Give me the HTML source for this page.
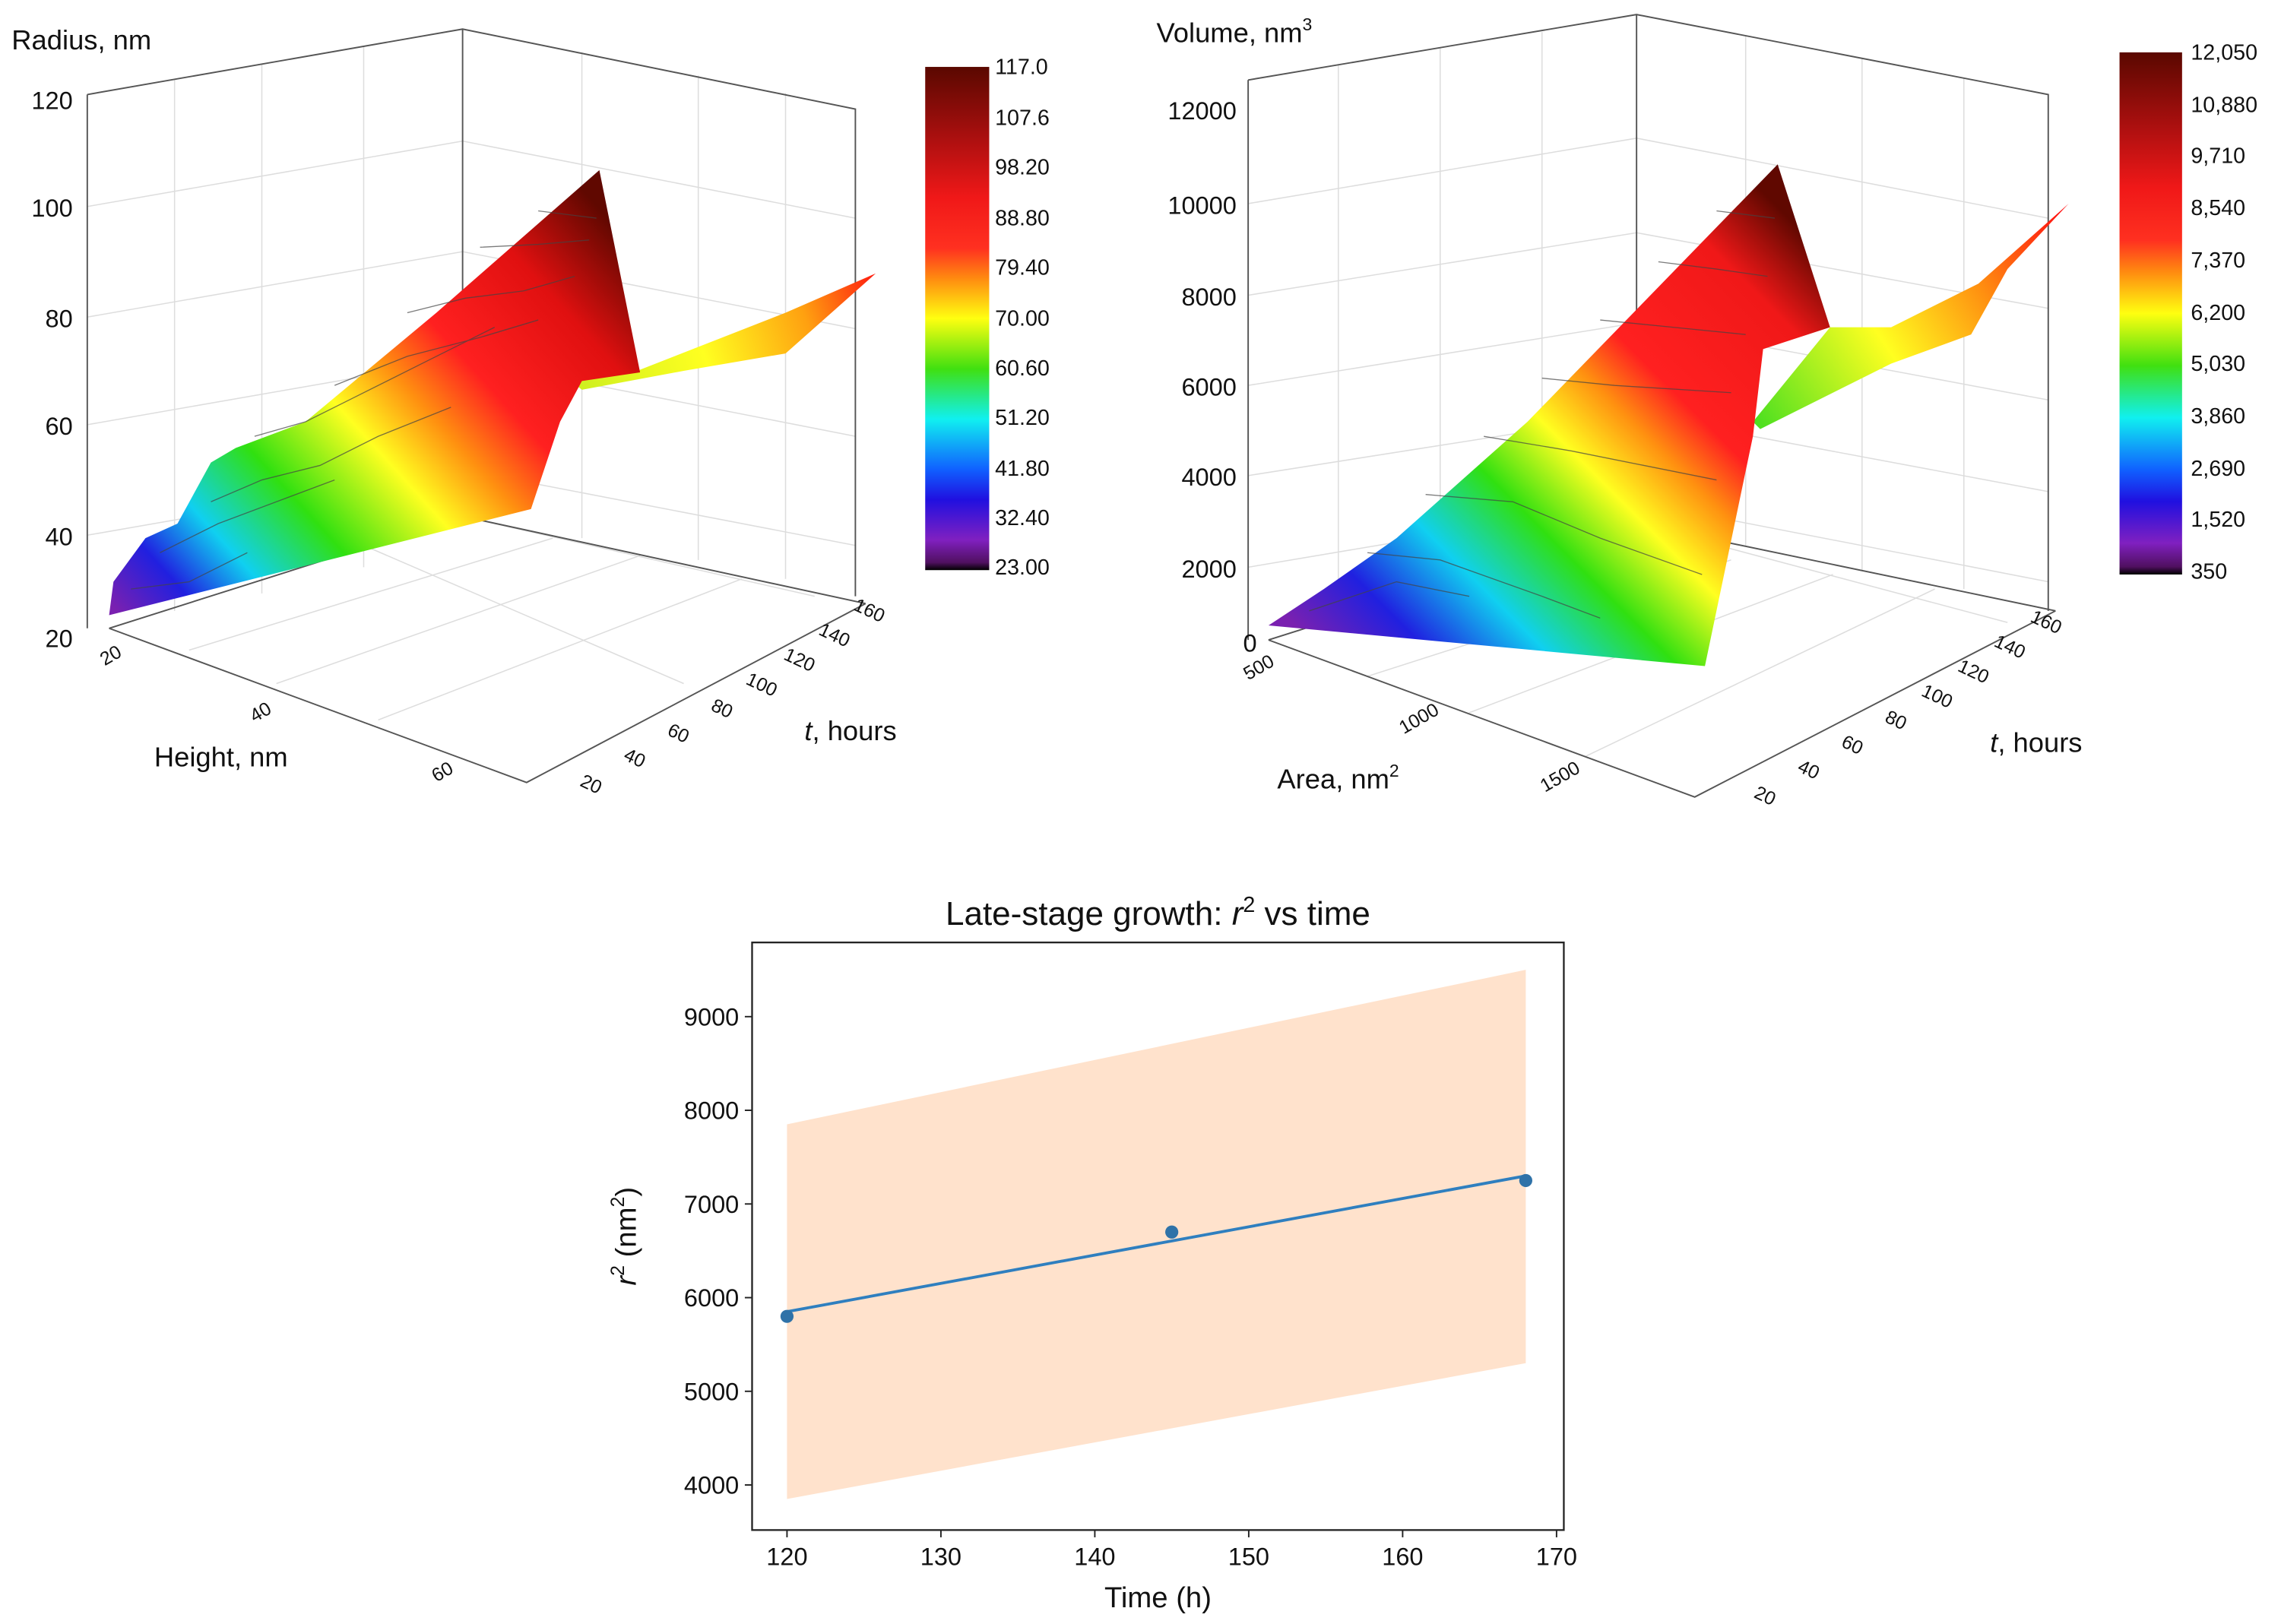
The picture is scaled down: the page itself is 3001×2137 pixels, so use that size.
<!DOCTYPE html>
<html><head><meta charset="utf-8"><style>
html,body{margin:0;padding:0;background:#fff}
svg{display:block}
text{font-family:"Liberation Sans",Arial,sans-serif;fill:#111}
</style></head><body>
<svg width="3001" height="2137" viewBox="0 0 1568 1116.6" preserveAspectRatio="none" xmlns="http://www.w3.org/2000/svg">
<defs>
<linearGradient id="cbar" x1="0" y1="0" x2="0" y2="1">
<stop offset="0" stop-color="#5a0800"/><stop offset="0.15" stop-color="#b01010"/><stop offset="0.26" stop-color="#f01818"/><stop offset="0.36" stop-color="#ff3020"/><stop offset="0.42" stop-color="#ff8a10"/><stop offset="0.5" stop-color="#ffff10"/><stop offset="0.6" stop-color="#40e010"/><stop offset="0.7" stop-color="#10f0f0"/><stop offset="0.8" stop-color="#1060ff"/><stop offset="0.86" stop-color="#2010e0"/><stop offset="0.94" stop-color="#8020c0"/><stop offset="0.985" stop-color="#501060"/><stop offset="1" stop-color="#000"/>
</linearGradient>
<linearGradient id="surfL" gradientUnits="userSpaceOnUse" x1="80" y1="420" x2="400" y2="130">
<stop offset="0" stop-color="#7a20b0"/><stop offset="0.1" stop-color="#2020e0"/><stop offset="0.2" stop-color="#10d0f0"/><stop offset="0.33" stop-color="#30e010"/><stop offset="0.48" stop-color="#ffff20"/><stop offset="0.58" stop-color="#ff9010"/><stop offset="0.68" stop-color="#ff2020"/><stop offset="0.85" stop-color="#e01010"/><stop offset="1" stop-color="#600800"/>
</linearGradient>
<linearGradient id="wingL" gradientUnits="userSpaceOnUse" x1="400" y1="260" x2="600" y2="190">
<stop offset="0" stop-color="#d0f020"/><stop offset="0.4" stop-color="#ffff20"/><stop offset="0.75" stop-color="#ffa010"/><stop offset="1" stop-color="#ff2010"/>
</linearGradient>
<linearGradient id="surfR" gradientUnits="userSpaceOnUse" x1="900" y1="440" x2="1210" y2="130">
<stop offset="0" stop-color="#7a20b0"/><stop offset="0.12" stop-color="#2020e0"/><stop offset="0.25" stop-color="#10d0f0"/><stop offset="0.38" stop-color="#30e010"/><stop offset="0.5" stop-color="#ffff20"/><stop offset="0.6" stop-color="#ff9010"/><stop offset="0.68" stop-color="#ff2020"/><stop offset="0.88" stop-color="#f01818"/><stop offset="1" stop-color="#600800"/>
</linearGradient>
<linearGradient id="wingR" gradientUnits="userSpaceOnUse" x1="1210" y1="290" x2="1420" y2="150">
<stop offset="0" stop-color="#50e020"/><stop offset="0.4" stop-color="#ffff20"/><stop offset="0.7" stop-color="#ff9010"/><stop offset="1" stop-color="#ff1010"/>
</linearGradient>
</defs>

<!-- LEFT 3D CHART -->
<g>
<g stroke="#ddd" stroke-width="0.8" fill="none">
<path d="M60,142 L318,97 L588,150 M60,218 L318,173 L588,226 M60,292 L318,247 L588,300 M60,368 L318,323 L588,375"/>
<path d="M120,55 L120,420 M180,44 L180,408 M250,32 L250,390 M400,36 L400,370 M480,52 L480,385 M540,64 L540,398"/>
<path d="M130,447 L380,370 M190,470 L440,382 M260,495 L510,398 M318,355 L560,410 M250,375 L470,470"/>
</g>
<path d="M60,65 L318,20 L588,75 L588,410 M318,20 L318,355 M60,65 L60,432 M75,432 L362,538 L595,415 M75,432 L318,355 L595,415" stroke="#555" stroke-width="1" fill="none"/>
<polygon points="390,260 438,255 540,215 602,188 575,212 540,243 470,255 400,268" fill="url(#wingL)"/>
<polygon points="75,423 78,400 100,370 122,360 145,318 162,308 210,290 300,215 412,117 440,256 400,262 385,290 365,350" fill="url(#surfL)"/>
<g stroke="#444" stroke-width="0.7" fill="none" opacity="0.7">
<path d="M90,405 L130,400 L170,380"/><path d="M110,380 L150,360 L190,345 L230,330"/><path d="M145,345 L180,330 L220,320 L260,300 L310,280"/><path d="M175,300 L210,290 L240,275 L290,250 L340,225"/><path d="M230,265 L280,245 L330,232 L370,220"/><path d="M280,215 L320,205 L360,200 L395,190"/><path d="M330,170 L370,168 L405,165"/><path d="M370,145 L410,150"/>
</g>
<text x="8" y="34" font-size="19">Radius, nm</text>
<g font-size="17" text-anchor="end">
<text x="50" y="75">120</text><text x="50" y="149">100</text><text x="50" y="225">80</text><text x="50" y="299">60</text><text x="50" y="375">40</text><text x="50" y="445">20</text>
</g>
<g font-size="13">
<text x="72" y="458" transform="rotate(-30 72 458)">20</text><text x="175" y="497" transform="rotate(-30 175 497)">40</text><text x="300" y="538" transform="rotate(-30 300 538)">60</text>
</g>
<text x="106" y="527" font-size="19">Height, nm</text>
<g font-size="13">
<text x="398" y="540" transform="rotate(25 398 540)">20</text><text x="428" y="522" transform="rotate(25 428 522)">40</text><text x="458" y="505" transform="rotate(25 458 505)">60</text><text x="488" y="488" transform="rotate(25 488 488)">80</text><text x="512" y="470" transform="rotate(25 512 470)">100</text><text x="538" y="453" transform="rotate(25 538 453)">120</text><text x="562" y="436" transform="rotate(25 562 436)">140</text><text x="586" y="419" transform="rotate(25 586 419)">160</text>
</g>
<text x="553" y="509" font-size="19"><tspan font-style="italic">t</tspan>, hours</text>
<rect x="636" y="46" width="44" height="346" fill="url(#cbar)"/>
<g font-size="15">
<text x="684" y="51">117.0</text><text x="684" y="86">107.6</text><text x="684" y="120">98.20</text><text x="684" y="155">88.80</text><text x="684" y="189">79.40</text><text x="684" y="224">70.00</text><text x="684" y="258">60.60</text><text x="684" y="292">51.20</text><text x="684" y="327">41.80</text><text x="684" y="361">32.40</text><text x="684" y="395">23.00</text>
</g>
</g>

<!-- RIGHT 3D CHART -->
<g>
<g stroke="#ddd" stroke-width="0.8" fill="none">
<path d="M858,140 L1125,95 L1408,150 M858,203 L1125,160 L1408,212 M858,265 L1125,222 L1408,275 M858,327 L1125,285 L1408,338 M858,390 L1125,345 L1408,400"/>
<path d="M920,45 L920,420 M990,33 L990,405 M1060,22 L1060,385 M1200,25 L1200,375 M1280,40 L1280,392 M1350,54 L1350,405"/>
<path d="M940,465 L1190,385 M1010,490 L1260,395 M1090,520 L1330,405 M1125,360 L1380,428"/>
</g>
<path d="M858,55 L1125,10 L1408,65 L1408,420 M1125,10 L1125,360 M858,55 L858,440 M872,440 L1165,548 L1413,420 M872,440 L1125,360 L1413,420" stroke="#555" stroke-width="1" fill="none"/>
<polygon points="1205,290 1258,225 1300,225 1360,195 1422,140 1380,185 1355,230 1300,250 1210,295" fill="url(#wingR)"/>
<polygon points="872,430 910,405 960,370 1050,290 1222,113 1258,225 1212,240 1205,300 1172,458" fill="url(#surfR)"/>
<g stroke="#444" stroke-width="0.7" fill="none" opacity="0.7">
<path d="M900,420 L960,400 L1010,410"/><path d="M940,380 L990,385 L1060,410 L1100,425"/><path d="M980,340 L1040,345 L1100,370 L1170,395"/><path d="M1020,300 L1080,310 L1130,320 L1180,330"/><path d="M1060,260 L1110,265 L1190,270"/><path d="M1100,220 L1150,225 L1200,230"/><path d="M1140,180 L1180,185 L1215,190"/><path d="M1180,145 L1220,150"/>
</g>
<text x="795" y="29" font-size="19">Volume, nm<tspan font-size="12" dy="-8">3</tspan></text>
<g font-size="17" text-anchor="end">
<text x="850" y="82">12000</text><text x="850" y="147">10000</text><text x="850" y="210">8000</text><text x="850" y="272">6000</text><text x="850" y="334">4000</text><text x="850" y="397">2000</text><text x="864" y="448">0</text>
</g>
<g font-size="13">
<text x="858" y="468" transform="rotate(-30 858 468)">500</text><text x="965" y="505" transform="rotate(-30 965 505)">1000</text><text x="1062" y="545" transform="rotate(-30 1062 545)">1500</text>
</g>
<text x="878" y="542" font-size="19">Area, nm<tspan font-size="12" dy="-8">2</tspan></text>
<g font-size="13">
<text x="1205" y="548" transform="rotate(25 1205 548)">20</text><text x="1235" y="530" transform="rotate(25 1235 530)">40</text><text x="1265" y="513" transform="rotate(25 1265 513)">60</text><text x="1295" y="496" transform="rotate(25 1295 496)">80</text><text x="1320" y="478" transform="rotate(25 1320 478)">100</text><text x="1345" y="461" transform="rotate(25 1345 461)">120</text><text x="1370" y="444" transform="rotate(25 1370 444)">140</text><text x="1395" y="427" transform="rotate(25 1395 427)">160</text>
</g>
<text x="1368" y="517" font-size="19"><tspan font-style="italic">t</tspan>, hours</text>
<rect x="1457" y="36" width="43" height="359" fill="url(#cbar)"/>
<g font-size="15">
<text x="1506" y="41">12,050</text><text x="1506" y="77">10,880</text><text x="1506" y="112">9,710</text><text x="1506" y="148">8,540</text><text x="1506" y="184">7,370</text><text x="1506" y="220">6,200</text><text x="1506" y="255">5,030</text><text x="1506" y="291">3,860</text><text x="1506" y="327">2,690</text><text x="1506" y="362">1,520</text><text x="1506" y="398">350</text>
</g>
</g>

<!-- BOTTOM 2D CHART -->
<g id="bottom">
<text x="796" y="636" font-size="23" text-anchor="middle">Late-stage growth: <tspan font-style="italic">r</tspan><tspan font-size="15" dy="-9">2</tspan><tspan dy="9"> vs time</tspan></text>
<g id="plot"></g>
<rect x="517" y="648" width="558" height="404" fill="none" stroke="#222" stroke-width="1.2"/>
<text x="796" y="1105" font-size="20" text-anchor="middle">Time (h)</text>
<text transform="translate(437 850) rotate(-90)" font-size="20" text-anchor="middle"><tspan font-style="italic">r</tspan><tspan font-size="13" dy="-8">2</tspan><tspan dy="8"> (nm</tspan><tspan font-size="13" dy="-8">2</tspan><tspan dy="8">)</tspan></text>
</g>
</svg>
<script>
const times = [120, 145, 168];
const r2 = [5800, 6700, 7250];
const fitLine = [5850, 7300];
const bandLow = [3850, 5300];
const bandHigh = [7850, 9500];
const fitTimes = [120, 168];
const xTicks = [120, 130, 140, 150, 160, 170];
const yTicks = [4000, 5000, 6000, 7000, 8000, 9000];

const NS = 'http://www.w3.org/2000/svg';
const X = t => 541 + (t - 120) * 10.58;
const Y = v => 699 + (9000 - v) * 0.0644;
const plot = document.getElementById('plot');
function mk(tag, attrs) { const e = document.createElementNS(NS, tag); for (const k in attrs) e.setAttribute(k, attrs[k]); plot.appendChild(e); return e; }

const band = mk('polygon', {points: `${X(fitTimes[0])},${Y(bandHigh[0])} ${X(fitTimes[1])},${Y(bandHigh[1])} ${X(fitTimes[1])},${Y(bandLow[1])} ${X(fitTimes[0])},${Y(bandLow[0])}`, fill: '#ffe2cc'});



const line = mk('line', {x1: X(fitTimes[0]), y1: Y(fitLine[0]), x2: X(fitTimes[1]), y2: Y(fitLine[1]), stroke: '#2f7fbf', 'stroke-width': 2});



times.forEach((t, i) => {
  const c = mk('circle', {cx: X(t), cy: Y(r2[i]), r: 4.5, fill: '#2f72a8'});
  
  
});

xTicks.forEach(t => {
  mk('line', {x1: X(t), x2: X(t), y1: 1052, y2: 1057, stroke: '#222'});
  const tx = mk('text', {x: X(t), y: 1076, 'font-size': 17, 'text-anchor': 'middle'});
  tx.textContent = t;
  
  
});
yTicks.forEach(v => {
  mk('line', {x1: 512, x2: 517, y1: Y(v), y2: Y(v), stroke: '#222'});
  const tx = mk('text', {x: 508, y: Y(v) + 6, 'font-size': 17, 'text-anchor': 'end'});
  tx.textContent = v;
  
  
});
</script>
</body></html>
